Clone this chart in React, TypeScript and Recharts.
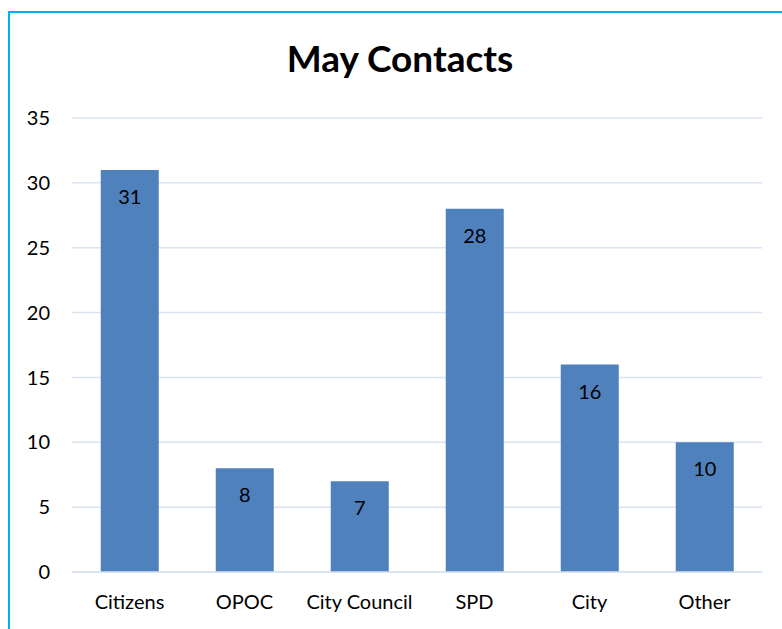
import { BarChart, Bar, XAxis, YAxis, CartesianGrid, LabelList } from 'recharts'

const categories = ['Citizens', 'OPOC', 'City Council', 'SPD', 'City', 'Other']
const contacts = [31, 8, 7, 28, 16, 10]
const yTicks = [0, 5, 10, 15, 20, 25, 30, 35]

const data = categories.map((name, i) => ({ name, contacts: contacts[i] }))

const font = 'Lato, "Open Sans", sans-serif'

export default function App() {
  return (
    <div style={{ position: 'absolute', left: 0, top: 0, width: 782, height: 629, overflow: 'hidden', background: '#fff' }}>
      <div
        style={{
          position: 'absolute', left: 8, top: 11, width: 800, height: 700,
          borderLeft: '2px solid #00b0f0', borderTop: '2px solid #00b0f0',
        }}
      />
      <div
        style={{
          position: 'absolute', left: 0, top: 35, width: 800, textAlign: 'center',
          fontFamily: font, fontWeight: 700, fontSize: 37, color: '#000',
        }}
      >
        May Contacts
      </div>
      <div style={{ position: 'absolute', left: 0, top: 0 }}>
        <BarChart
          width={782}
          height={629}
          data={data}
          margin={{ top: 118, right: 20, bottom: 27, left: 32 }}
          barCategoryGap="25%"
        >
          <CartesianGrid vertical={false} stroke="#d9e3f1" strokeWidth={1.5} />
          <XAxis
            dataKey="name"
            height={30}
            tickLine={false}
            tickSize={0}
            tickMargin={23}
            axisLine={{ stroke: '#d9e3f1', strokeWidth: 1.5 }}
            tick={{ fill: '#000', fontSize: 20, fontFamily: font }}
            interval={0}
          />
          <YAxis
            width={40}
            domain={[0, 35]}
            ticks={yTicks}
            axisLine={false}
            tickLine={false}
            tickSize={0}
            tickMargin={22}
            tick={{ fill: '#000', fontSize: 20, fontFamily: font }}
          />
          <Bar dataKey="contacts" fill="#4f81bd" isAnimationActive={false}>
            <LabelList
              dataKey="contacts"
              position="insideTop"
              offset={20}
              style={{ fill: '#000', fontSize: 20, fontFamily: font }}
            />
          </Bar>
        </BarChart>
      </div>
    </div>
  )
}
